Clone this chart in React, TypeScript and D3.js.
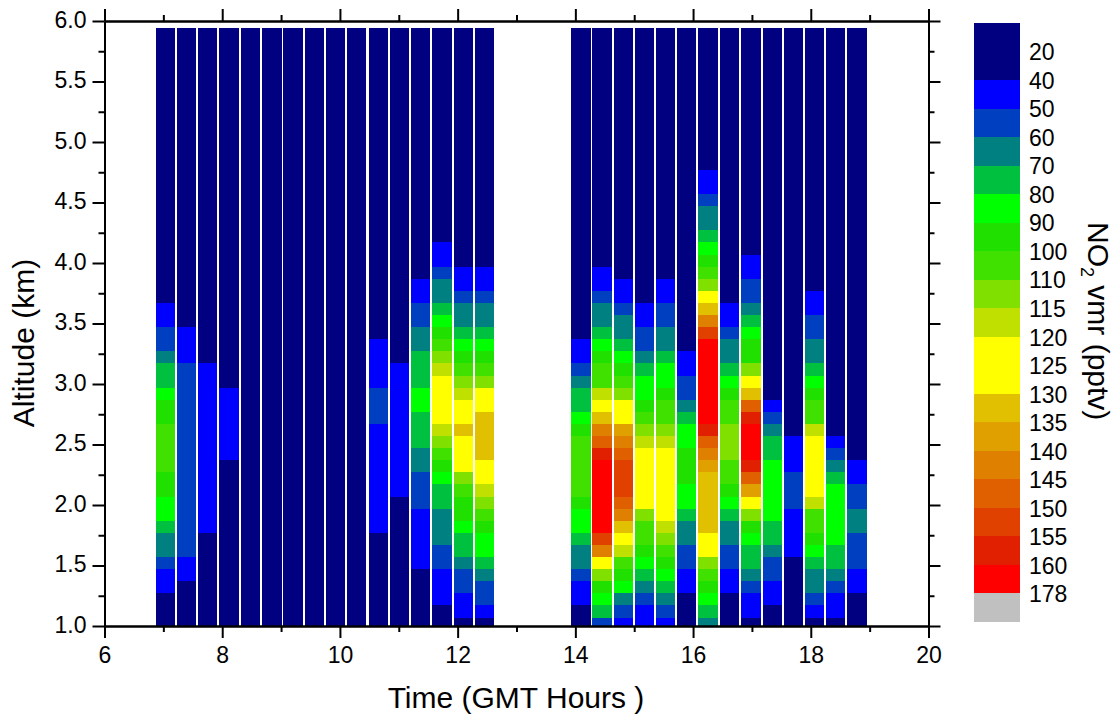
import React, { useEffect, useRef } from 'react';
import * as d3 from 'd3';

const width = 1120;
const height = 720;

// start of each profile, GMT hours
const startTimes = [
  6.87, 7.23, 7.59, 7.95, 8.32, 8.68, 9.04, 9.4, 9.76, 10.12, 10.49, 10.85, 11.21, 11.57, 11.93, 12.29,
  13.93, 14.29, 14.65, 15.01, 15.37, 15.73, 16.09, 16.46, 16.82, 17.18, 17.54, 17.9, 18.26, 18.62,
];
const profileLength = 0.3615;

// layer edges, km
const altitudeEdges = [1.0, ...d3.range(0, 49).map(i => 1.07 + i * 0.1), 5.94];

// NO2 vmr per layer from the ground up, anything above the end of a list is background
const profiles: number[][] = [
  [20, 20, 20, 45, 45, 55, 65, 65, 75, 85, 85, 95, 95, 105, 105, 105, 105, 95, 95, 85, 75, 75, 65, 55, 55, 45, 45],
  [20, 20, 20, 20, 45, 45, 55, 55, 55, 55, 55, 55, 55, 55, 55, 55, 55, 55, 55, 55, 55, 55, 45, 45, 45],
  [20, 20, 20, 20, 20, 20, 20, 20, 45, 45, 45, 45, 45, 45, 45, 45, 45, 45, 45, 45, 45, 45],
  [20, 20, 20, 20, 20, 20, 20, 20, 20, 20, 20, 20, 20, 20, 45, 45, 45, 45, 45, 45],
  [],
  [],
  [],
  [],
  [],
  [],
  [20, 20, 20, 20, 20, 20, 20, 20, 45, 45, 45, 45, 45, 45, 45, 45, 45, 55, 55, 55, 45, 45, 45, 45],
  [20, 20, 20, 20, 20, 20, 20, 20, 20, 20, 20, 45, 45, 45, 45, 45, 45, 45, 45, 45, 45, 45],
  [20, 20, 20, 20, 20, 45, 45, 45, 45, 45, 55, 55, 55, 65, 65, 75, 75, 75, 85, 85, 75, 75, 75, 65, 65, 55, 55, 45, 45],
  [20, 20, 45, 45, 45, 55, 55, 65, 65, 65, 75, 75, 85, 95, 105, 112, 118, 125, 125, 125, 125, 118, 112, 105, 95, 85, 75, 65, 65, 55, 45, 45],
  [20, 45, 45, 55, 55, 65, 75, 75, 85, 95, 95, 105, 112, 125, 125, 125, 132, 125, 125, 118, 112, 105, 95, 85, 75, 65, 65, 55, 45, 45],
  [20, 45, 55, 55, 65, 75, 85, 85, 95, 105, 112, 118, 125, 125, 132, 132, 132, 132, 125, 125, 112, 105, 95, 85, 75, 65, 65, 55, 45, 45],
  [20, 20, 45, 45, 55, 65, 65, 75, 85, 85, 95, 105, 105, 105, 105, 105, 95, 85, 75, 75, 65, 55, 45, 45],
  [55, 75, 85, 95, 112, 125, 142, 152, 165, 165, 165, 165, 165, 165, 157, 147, 142, 132, 125, 118, 105, 105, 95, 85, 75, 65, 65, 55, 45, 45],
  [45, 55, 65, 85, 95, 105, 118, 125, 132, 142, 147, 152, 152, 152, 147, 142, 137, 125, 125, 112, 105, 95, 85, 75, 65, 65, 55, 45, 45],
  [45, 45, 55, 65, 75, 85, 95, 105, 105, 112, 125, 125, 125, 125, 125, 118, 112, 105, 95, 85, 85, 75, 65, 55, 55, 45, 45],
  [45, 55, 65, 75, 85, 95, 105, 112, 118, 125, 125, 125, 125, 125, 125, 118, 112, 105, 105, 95, 85, 85, 75, 65, 65, 55, 55, 45, 45],
  [20, 20, 20, 45, 45, 55, 55, 65, 65, 75, 85, 85, 95, 95, 95, 85, 85, 75, 65, 55, 55, 45, 45],
  [65, 75, 85, 95, 105, 112, 125, 125, 132, 132, 132, 132, 132, 137, 142, 147, 157, 165, 165, 165, 165, 165, 165, 165, 152, 142, 132, 125, 112, 105, 95, 85, 75, 65, 65, 55, 45, 45],
  [20, 20, 20, 45, 45, 55, 55, 65, 65, 75, 85, 95, 105, 105, 112, 112, 112, 105, 105, 95, 85, 75, 65, 65, 55, 45, 45],
  [20, 45, 45, 55, 65, 75, 75, 85, 95, 112, 125, 137, 147, 157, 165, 165, 165, 157, 147, 132, 125, 112, 95, 95, 85, 75, 65, 55, 55, 45, 45],
  [20, 20, 45, 45, 55, 55, 65, 75, 75, 85, 85, 85, 85, 85, 75, 75, 65, 55, 45],
  [20, 20, 20, 20, 20, 20, 45, 45, 45, 45, 55, 55, 55, 45, 45, 45],
  [20, 45, 55, 65, 65, 75, 85, 95, 105, 105, 118, 125, 125, 125, 125, 125, 118, 105, 105, 95, 85, 75, 65, 65, 55, 55, 45, 45],
  [20, 45, 45, 55, 65, 75, 75, 85, 85, 85, 85, 85, 75, 65, 55, 45],
  [20, 20, 20, 45, 45, 55, 55, 55, 65, 65, 55, 55, 45, 45],
];
const backgroundValue = 20;

// contour levels and the colour above each one
const levels = [40, 50, 60, 70, 80, 90, 100, 110, 115, 120, 130, 135, 140, 145, 150, 155, 160, 178];
const levelColors = [
  '#000080', '#0000ff', '#0040c0', '#008080', '#00c040', '#00ff00', '#20e000', '#40e000', '#80e000', '#c0e000',
  '#ffff00', '#e0c000', '#e0a000', '#e08000', '#e06000', '#e04000', '#e02000', '#ff0000', '#c0c0c0',
];
const legendLabels = [20, 40, 50, 60, 70, 80, 90, 100, 110, 115, 120, 125, 130, 135, 140, 145, 150, 155, 160, 178];

const fontFamily = '"Liberation Sans", Arial, sans-serif';

export default function App() {
  const ref = useRef<SVGSVGElement>(null);

  useEffect(() => {
    const svg = d3.select(ref.current);
    svg.selectAll('*').remove();

    const x = d3.scaleLinear().domain([6, 20]).range([104.5, 928.5]);
    const y = d3.scaleLinear().domain([1, 6]).range([626, 21]);
    const color = d3.scaleThreshold<number, string>().domain(levels).range(levelColors);

    // profiles
    const cells = svg.append('g').attr('shape-rendering', 'crispEdges');
    startTimes.forEach((t, i) => {
      const layers = d3.range(altitudeEdges.length - 1).map(k => ({
        k,
        value: profiles[i][k] ?? backgroundValue,
      }));
      cells
        .append('g')
        .selectAll('rect')
        .data(layers)
        .join('rect')
        .attr('x', x(t))
        .attr('width', x(t + profileLength) - x(t) - 2)
        .attr('y', d => y(altitudeEdges[d.k + 1]))
        .attr('height', d => y(altitudeEdges[d.k]) - y(altitudeEdges[d.k + 1]))
        .attr('fill', d => color(d.value));
    });

    // frame axes, majors and minors
    const xMajor = d3.range(6, 21, 2);
    const xMinor = d3.range(7, 20, 2);
    const yMajor = d3.range(1, 6.01, 0.5);
    const yMinor = d3.range(1.25, 6, 0.5);

    const axisGroups = [
      { axis: d3.axisBottom(x).tickValues(xMajor).tickSize(12).tickPadding(9).tickFormat(d3.format('d')), at: [0, 626] },
      { axis: d3.axisBottom(x).tickValues(xMinor).tickSize(6).tickFormat(() => ''), at: [0, 626] },
      { axis: d3.axisBottom(x).tickValues(xMajor).tickSize(-12).tickFormat(() => ''), at: [0, 21] },
      { axis: d3.axisBottom(x).tickValues(xMinor).tickSize(-6).tickFormat(() => ''), at: [0, 21] },
      { axis: d3.axisLeft(y).tickValues(yMajor).tickSize(12).tickPadding(6).tickFormat(d3.format('.1f')), at: [104.5, 0], dy: '0.28em' },
      { axis: d3.axisLeft(y).tickValues(yMinor).tickSize(6).tickFormat(() => ''), at: [104.5, 0] },
      { axis: d3.axisLeft(y).tickValues(yMajor).tickSize(-12).tickFormat(() => ''), at: [928.5, 0] },
      { axis: d3.axisLeft(y).tickValues(yMinor).tickSize(-6).tickFormat(() => ''), at: [928.5, 0] },
    ];
    axisGroups.forEach(({ axis, at, dy }) => {
      const g = svg
        .append('g')
        .attr('transform', `translate(${at[0]},${at[1]})`)
        .call(axis.tickSizeOuter(0) as any);
      g.selectAll('path, line').attr('stroke', '#000').attr('stroke-width', 2);
      const labels = g
        .selectAll('text')
        .attr('fill', '#000')
        .style('font-family', fontFamily)
        .style('font-size', '23px');
      if (dy) labels.attr('dy', dy);
    });

    const title = (text: string) =>
      svg
        .append('text')
        .text(text)
        .attr('text-anchor', 'middle')
        .style('font-family', fontFamily)
        .style('font-size', '30px')
        .attr('fill', '#000');

    title('Time (GMT Hours )').attr('x', 516).attr('y', 708);
    title('Altitude (km)').attr('transform', 'translate(34,343) rotate(-90)');

    // colour legend
    const legendY = d3.scaleLinear().domain([0, legendLabels.length + 1]).range([23, 622]);
    const legend = svg.append('g');
    const legendBands = levelColors.map((c, i) => {
      const from = i === 0 ? 0 : legendLabels.indexOf(levels[i - 1]) + 1;
      const to = i === levels.length ? legendLabels.length + 1 : legendLabels.indexOf(levels[i]) + 1;
      return { c, from, to };
    });
    legend
      .selectAll('rect')
      .data(legendBands)
      .join('rect')
      .attr('shape-rendering', 'crispEdges')
      .attr('x', 974)
      .attr('width', 46)
      .attr('y', d => legendY(d.from))
      .attr('height', d => legendY(d.to) - legendY(d.from))
      .attr('fill', d => d.c);
    legend
      .selectAll('text')
      .data(legendLabels)
      .join('text')
      .text(d => d)
      .attr('x', 1029)
      .attr('y', (d, i) => legendY(i + 1))
      .attr('dy', '0.38em')
      .attr('fill', '#000')
      .style('font-family', fontFamily)
      .style('font-size', '23px');

    const cbTitle = svg
      .append('text')
      .attr('transform', 'translate(1088,222) rotate(90)')
      .attr('fill', '#000')
      .style('font-family', fontFamily)
      .style('font-size', '30px');
    cbTitle.append('tspan').text('NO');
    cbTitle.append('tspan').text('2').attr('dy', 7).style('font-size', '18px');
    cbTitle.append('tspan').text(' vmr (pptv)').attr('dy', -7);
  }, []);

  return (
    <svg
      ref={ref}
      width={width}
      height={height}
      style={{ position: 'absolute', left: 0, top: 0, background: '#fff' }}
    />
  );
}
